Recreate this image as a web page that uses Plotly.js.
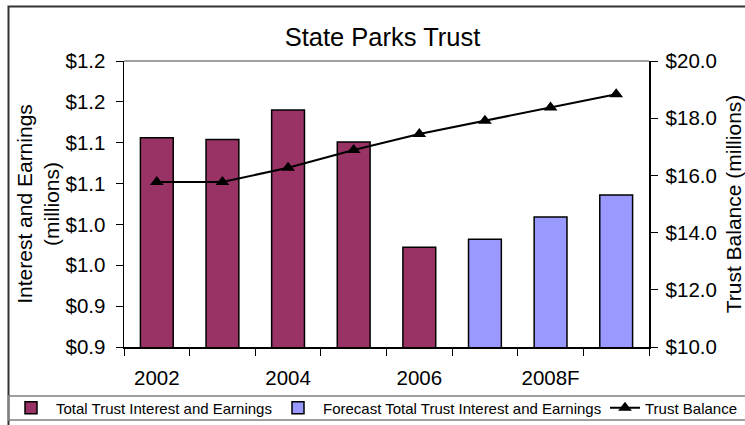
<!DOCTYPE html>
<html>
<head>
<meta charset="utf-8">
<script src="https://cdn.plot.ly/plotly-3.0.1.min.js"></script>
<style>html,body{margin:0;padding:0;background:#fff;}#chart{width:745px;height:425px;}</style>
</head>
<body>
<div id="chart"></div>
<script>
// ---- data ----
const categories = ['2002', '2003', '2004', '2005', '2006', '2007F', '2008F', '2009F'];
const xTickText = ['2002', '', '2004', '', '2006', '', '2008F', ''];
const actualYears = ['2002', '2003', '2004', '2005', '2006'];
const actualEarnings = [1.106, 1.104, 1.140, 1.101, 0.972];
const forecastYears = ['2007F', '2008F', '2009F'];
const forecastEarnings = [0.982, 1.009, 1.036];
const trustBalance = [15.77, 15.77, 16.27, 16.89, 17.45, 17.91, 18.37, 18.84];
const leftTickVals = [0.85, 0.90, 0.95, 1.00, 1.05, 1.10, 1.15, 1.20];
const leftTickText = ['$0.9', '$0.9', '$1.0', '$1.0', '$1.1', '$1.1', '$1.2', '$1.2'];
const rightTickVals = [10, 12, 14, 16, 18, 20];
const rightTickText = ['$10.0', '$12.0', '$14.0', '$16.0', '$18.0', '$20.0'];
const seriesNames = ['Total Trust Interest and Earnings', 'Forecast Total Trust Interest and Earnings', 'Trust Balance'];

// ---- layout helpers (pixel -> paper) ----
const L = 124, R = 96, T = 61, B = 78, W = 745, H = 425;
const pw = W - L - R, ph = H - T - B;
const px = x => (x - L) / pw;
const py = y => (H - B - y) / ph;
const FONT = 'Liberation Sans, Arial, sans-serif';

const traces = [
  {
    type: 'bar', name: seriesNames[0], x: actualYears, y: actualEarnings,
    width: 0.5, marker: {color: '#993366', line: {color: '#000', width: 1.5}},
    yaxis: 'y', legend: 'legend'
  },
  {
    type: 'bar', name: seriesNames[1], x: forecastYears, y: forecastEarnings,
    width: 0.5, marker: {color: '#9999FF', line: {color: '#000', width: 1.5}},
    yaxis: 'y', legend: 'legend2'
  },
  {
    type: 'scatter', mode: 'lines+markers', name: seriesNames[2], x: categories, y: trustBalance,
    line: {color: '#000', width: 2}, marker: {symbol: 'triangle-up', size: 12, color: '#000'},
    yaxis: 'y2', legend: 'legend3'
  }
];

const legendBase = (xText, iw) => ({
  orientation: 'h', xref: 'paper', yref: 'paper',
  x: px(xText - iw - 14), xanchor: 'left', y: py(408), yanchor: 'middle',
  font: {size: 15, family: FONT, color: '#000'}, bgcolor: 'rgba(0,0,0,0)', borderwidth: 0,
  itemwidth: iw
});

const layout = {
  width: W, height: H,
  margin: {l: L, r: R, t: T, b: B, pad: 0, autoexpand: false},
  paper_bgcolor: '#fff', plot_bgcolor: '#fff',
  font: {family: FONT, color: '#000', size: 20.5},
  barmode: 'overlay',
  title: {text: 'State Parks Trust', font: {family: FONT, size: 25.5, color: '#000'},
          x: 382.5 / W, xref: 'container', xanchor: 'center', y: 1 - 37 / H, yref: 'container', yanchor: 'middle'},
  xaxis: {
    type: 'category', categoryorder: 'array', categoryarray: categories,
    tickvals: categories, ticktext: xTickText, tickson: 'boundaries', tickangle: 0,
    ticks: 'outside', ticklen: 7, tickcolor: '#000', tickwidth: 1, ticklabelstandoff: 12,
    showline: true, linecolor: '#000', linewidth: 1.5, showgrid: false, zeroline: false,
    tickfont: {size: 20.5}, range: [-0.5, 7.5], fixedrange: true, automargin: false
  },
  yaxis: {
    range: [0.85, 1.2], tickvals: leftTickVals, ticktext: leftTickText, ticklabelstandoff: 6,
    ticks: 'outside', ticklen: 7, tickcolor: '#000', showline: true, linecolor: '#000', linewidth: 1.5,
    showgrid: false, zeroline: false, tickfont: {size: 20.5}, automargin: false,
    title: {text: 'Interest and Earnings<br>(millions)', font: {size: 21}, standoff: 0}
  },
  yaxis2: {
    overlaying: 'y', side: 'right', range: [10, 20], tickvals: rightTickVals, ticktext: rightTickText,
    ticklabelstandoff: 4,
    ticks: 'outside', ticklen: 7, tickcolor: '#000', showline: true, linecolor: '#000', linewidth: 1.5,
    showgrid: false, zeroline: false, tickfont: {size: 20.5}, automargin: false,
    title: {text: 'Trust Balance (millions)', font: {size: 21}, standoff: 12}
  },
  showlegend: true,
  legend: legendBase(60, 40),
  legend2: legendBase(327, 40),
  legend3: legendBase(649, 30),
  shapes: [
    // plot area top border (gray)
    {type: 'line', xref: 'paper', yref: 'paper', x0: 0, x1: 1, y0: 1, y1: 1,
     line: {color: '#808080', width: 1.5}},
    // outer chart border
    {type: 'rect', xref: 'paper', yref: 'paper', x0: px(8.5), x1: px(760), y0: py(6.5), y1: py(440),
     line: {color: '#333', width: 2}, fillcolor: 'rgba(0,0,0,0)', layer: 'below'},
    // legend box
    {type: 'rect', xref: 'paper', yref: 'paper', x0: px(8.5), x1: px(760), y0: py(396), y1: py(420),
     line: {color: '#808080', width: 1.5}, fillcolor: 'rgba(0,0,0,0)', layer: 'below'}
  ]
};

Plotly.newPlot('chart', traces, layout, {displayModeBar: false, staticPlot: true});
</script>
</body>
</html>
